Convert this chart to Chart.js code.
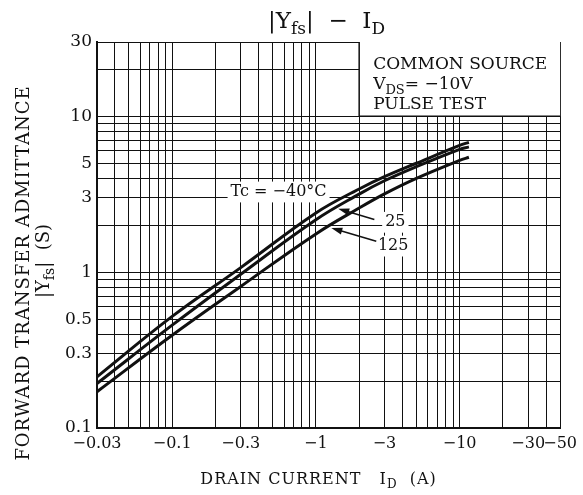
<!DOCTYPE html>
<html>
<head>
<meta charset="utf-8">
<script src="https://cdn.jsdelivr.net/npm/chart.js@4.4.0/dist/chart.umd.min.js"></script>
<style>
  html, body { margin: 0; padding: 0; background: #fff; }
  #wrap { width: 583px; height: 495px; }
</style>
</head>
<body>
<div id="wrap"><canvas id="chart" width="583" height="495"></canvas></div>
<script>
// drain current |ID| (A)
const currents = [0.03, 0.1, 0.3, 1, 2, 3, 5, 10, 11.6];
const yfsM40 = [0.213, 0.52, 1.07, 2.40, 3.42, 4.10, 5.0, 6.51, 6.81];
const yfs25 = [0.193, 0.457, 0.97, 2.17, 3.17, 3.86, 4.75, 6.14, 6.37];
const yfs125 = [0.171, 0.394, 0.81, 1.76, 2.58, 3.18, 4.0, 5.22, 5.46];

// grid lines and labelled ticks
const xGrid = [0.03, 0.04, 0.05, 0.06, 0.07, 0.08, 0.09, 0.1, 0.2, 0.3, 0.4, 0.5, 0.6, 0.7, 0.8, 0.9,
  1, 2, 3, 4, 5, 6, 7, 8, 9, 10, 20, 30, 40, 50];
const xLabels = [0.03, 0.1, 0.3, 1, 3, 10, 30, 50];
const yGrid = [0.1, 0.2, 0.3, 0.4, 0.5, 0.6, 0.7, 0.8, 0.9, 1, 2, 3, 4, 5, 6, 7, 8, 9, 10, 20, 30];
const yLabels = [0.1, 0.3, 0.5, 1, 3, 5, 10, 30];

const serif = "'DejaVu Serif', 'Liberation Serif', serif";
const ink = '#111';

function toPoints(ys) {
    return currents.map((c, i) => ({ x: c, y: ys[i] }));
}

// text with subscripts: parts = [[text, isSub], ...]
function richText(ctx, parts, x, y, size, align, spacing) {
    const subSize = Math.round(size * 0.75);
    ctx.letterSpacing = (spacing || 0) + 'px';
    let w = 0;
    parts.forEach(p => {
        ctx.font = (p[1] ? subSize : size) + 'px ' + serif;
        w += ctx.measureText(p[0]).width;
    });
    let cx = align === 'center' ? x - w / 2 : x;
    ctx.textAlign = 'left';
    ctx.textBaseline = 'alphabetic';
    parts.forEach(p => {
        ctx.font = (p[1] ? subSize : size) + 'px ' + serif;
        ctx.fillText(p[0], cx, p[1] ? y + size * 0.28 : y);
        cx += ctx.measureText(p[0]).width;
    });
    ctx.letterSpacing = '0px';
}

function labelWithBg(ctx, text, px, py, size) {
    ctx.font = size + 'px ' + serif;
    const w = ctx.measureText(text).width;
    ctx.fillStyle = '#fff';
    ctx.fillRect(px - w / 2 - 3, py - size * 0.65, w + 6, size * 1.3);
    ctx.fillStyle = ink;
    ctx.textAlign = 'center';
    ctx.textBaseline = 'middle';
    ctx.fillText(text, px, py);
}

function arrow(ctx, x0, y0, x1, y1) {
    const ang = Math.atan2(y1 - y0, x1 - x0);
    ctx.strokeStyle = ink;
    ctx.lineWidth = 1.5;
    ctx.beginPath();
    ctx.moveTo(x0, y0);
    ctx.lineTo(x1 - 8 * Math.cos(ang), y1 - 8 * Math.sin(ang));
    ctx.stroke();
    ctx.fillStyle = ink;
    ctx.beginPath();
    ctx.moveTo(x1, y1);
    ctx.lineTo(x1 - 11 * Math.cos(ang) + 3.5 * Math.sin(ang), y1 - 11 * Math.sin(ang) - 3.5 * Math.cos(ang));
    ctx.lineTo(x1 - 11 * Math.cos(ang) - 3.5 * Math.sin(ang), y1 - 11 * Math.sin(ang) + 3.5 * Math.cos(ang));
    ctx.closePath();
    ctx.fill();
}

const overlay = {
    id: 'overlay',
    beforeDatasetsDraw(chart) {
        const { ctx, chartArea: a, scales: { x, y } } = chart;
        ctx.save();
        // condition box, upper right corner
        const bx = x.getPixelForValue(2);
        const by = y.getPixelForValue(10);
        ctx.fillStyle = '#fff';
        ctx.fillRect(bx, a.top, a.right - bx, by - a.top);
        ctx.strokeStyle = ink;
        ctx.lineWidth = 1.5;
        ctx.beginPath();
        ctx.moveTo(bx, a.top);
        ctx.lineTo(bx, by);
        ctx.lineTo(a.right, by);
        ctx.stroke();
        ctx.fillStyle = ink;
        richText(ctx, [['COMMON SOURCE', false]], bx + 14, a.top + 27, 17);
        richText(ctx, [['V', false], ['DS', true], ['= \u221210V', false]], bx + 14, a.top + 47, 17);
        richText(ctx, [['PULSE TEST', false]], bx + 14, a.top + 67, 17);

        // temperature labels
        labelWithBg(ctx, 'Tc = \u221240\u00b0C', x.getPixelForValue(0.55), y.getPixelForValue(3.27), 16);
        labelWithBg(ctx, '25', x.getPixelForValue(3.57), y.getPixelForValue(2.09), 16);
        labelWithBg(ctx, '125', x.getPixelForValue(3.45), y.getPixelForValue(1.47), 16);
        ctx.restore();
    },
    afterDraw(chart) {
        const { ctx, chartArea: a, scales: { x, y } } = chart;
        ctx.save();
        arrow(ctx, x.getPixelForValue(2.55), y.getPixelForValue(2.18), x.getPixelForValue(1.43), y.getPixelForValue(2.55));
        arrow(ctx, x.getPixelForValue(2.63), y.getPixelForValue(1.58), x.getPixelForValue(1.28), y.getPixelForValue(1.92));

        ctx.fillStyle = ink;
        const mid = (a.left + a.right) / 2;
        richText(ctx, [['|Y', false], ['fs', true], ['|  \u2212  I', false], ['D', true]], mid - 2, 28, 23, 'center');
        richText(ctx, [['DRAIN CURRENT   I', false], ['D', true], ['  (A)', false]], mid - 10, 484, 16, 'center', 1);

        ctx.save();
        ctx.translate(29, 273);
        ctx.rotate(-Math.PI / 2);
        richText(ctx, [['FORWARD TRANSFER ADMITTANCE', false]], 0, 0, 18, 'center', 1);
        ctx.restore();
        ctx.save();
        ctx.translate(49, 261);
        ctx.rotate(-Math.PI / 2);
        richText(ctx, [['|Y', false], ['fs', true], ['|  (S)', false]], 0, 0, 18, 'center');
        ctx.restore();
        ctx.restore();
    }
};

const lineStyle = {
    borderColor: ink,
    borderWidth: 3,
    pointRadius: 0,
    fill: false,
    showLine: true,
    tension: 0.4
};

new Chart(document.getElementById('chart'), {
    type: 'scatter',
    data: {
        datasets: [
            Object.assign({ label: '-40', data: toPoints(yfsM40) }, lineStyle),
            Object.assign({ label: '25', data: toPoints(yfs25) }, lineStyle),
            Object.assign({ label: '125', data: toPoints(yfs125) }, lineStyle)
        ]
    },
    options: {
        responsive: false,
        animation: false,
        layout: { padding: { left: 0, right: 22, top: 42, bottom: 0 } },
        plugins: { legend: { display: false }, tooltip: { enabled: false }, title: { display: false } },
        scales: {
            x: {
                type: 'logarithmic',
                min: 0.03,
                max: 50,
                afterBuildTicks: s => { s.ticks = xGrid.map(v => ({ value: v })); },
                afterFit: s => { s.height = 67; },
                grid: { color: ink, lineWidth: 1, drawTicks: false },
                border: { color: ink, width: 2 },
                ticks: {
                    autoSkip: false,
                    maxRotation: 0,
                    padding: 6,
                    color: ink,
                    font: { family: serif, size: 16 },
                    callback: v => xLabels.includes(v) ? '\u2212' + v : ''
                }
            },
            y: {
                type: 'logarithmic',
                min: 0.1,
                max: 30,
                afterBuildTicks: s => { s.ticks = yGrid.map(v => ({ value: v })); },
                afterFit: s => { s.width = 97; },
                grid: { color: ink, lineWidth: 1, drawTicks: false },
                border: { color: ink, width: 2 },
                ticks: {
                    autoSkip: false,
                    padding: 5,
                    color: ink,
                    font: { family: serif, size: 17 },
                    callback: v => yLabels.includes(v) ? String(v) : ''
                }
            }
        }
    },
    plugins: [overlay]
});
</script>
</body>
</html>
